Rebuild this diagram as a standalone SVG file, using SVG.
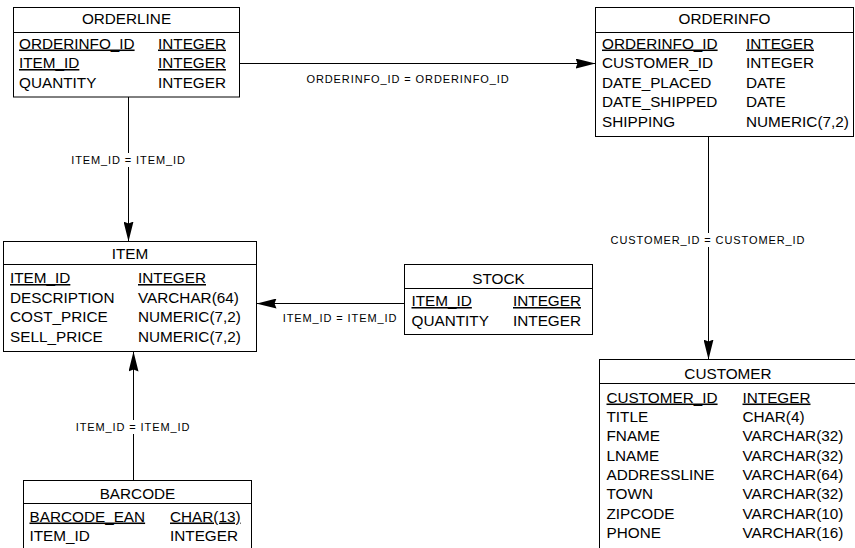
<svg xmlns="http://www.w3.org/2000/svg" width="855" height="548" viewBox="0 0 855 548">
<style>
.box{fill:#fff;stroke:#000;stroke-width:1}
.sep{stroke:#000;stroke-width:1}
.t{font-family:"Liberation Sans",Arial,sans-serif;font-size:15.3px;fill:#000}
.ttl{text-anchor:middle}
.pk{text-decoration:underline}
.conn{fill:none;stroke:#000;stroke-width:1}
.lbl{font-family:"Liberation Sans",Arial,sans-serif;font-size:11px;letter-spacing:0.9px;fill:#000;text-anchor:middle}
</style>
<defs>
<marker id="arr" markerUnits="userSpaceOnUse" viewBox="0 0 20 10" markerWidth="20" markerHeight="10" refX="20" refY="5" orient="auto">
<path d="M0,0 L20,5 L0,10 L2,5 z" fill="#000"/>
</marker>
</defs>
<rect width="855" height="548" fill="#fff"/>

<g id="connectors">
<path class="conn" d="M239.5 63.5 H595.5" marker-end="url(#arr)"/>
<path class="conn" d="M128.5 97 V153 M128.5 167 V241.5" marker-end="url(#arr)"/>
<path class="conn" d="M404.5 303.5 H256.5" marker-end="url(#arr)"/>
<path class="conn" d="M708.5 136.5 V233 M708.5 247 V359.5" marker-end="url(#arr)"/>
<path class="conn" d="M133.5 480.5 V434 M133.5 420 V351.5" marker-end="url(#arr)"/>
<text class="lbl" x="408" y="83">ORDERINFO_ID = ORDERINFO_ID</text>
<text class="lbl" x="128.5" y="164">ITEM_ID = ITEM_ID</text>
<text class="lbl" x="340" y="322">ITEM_ID = ITEM_ID</text>
<text class="lbl" x="708" y="244">CUSTOMER_ID = CUSTOMER_ID</text>
<text class="lbl" x="133" y="431">ITEM_ID = ITEM_ID</text>
</g>

<g id="orderline">
<rect class="box" x="13.5" y="7.5" width="226" height="89.5"/>
<line class="sep" x1="13.5" y1="32.5" x2="239.5" y2="32.5"/>
<text class="t ttl" x="126.5" y="23.5">ORDERLINE</text>
<text class="t pk" x="19" y="48.5">ORDERINFO_ID</text><text class="t pk" x="158" y="48.5">INTEGER</text>
<text class="t pk" x="19" y="68">ITEM_ID</text><text class="t pk" x="158" y="68">INTEGER</text>
<text class="t" x="19" y="87.5">QUANTITY</text><text class="t" x="158" y="87.5">INTEGER</text>
</g>

<g id="orderinfo">
<rect class="box" x="595.5" y="7.5" width="258" height="129"/>
<line class="sep" x1="595.5" y1="32.5" x2="853.5" y2="32.5"/>
<text class="t ttl" x="724.5" y="23.5">ORDERINFO</text>
<text class="t pk" x="602" y="48.5">ORDERINFO_ID</text><text class="t pk" x="746" y="48.5">INTEGER</text>
<text class="t" x="602" y="68">CUSTOMER_ID</text><text class="t" x="746" y="68">INTEGER</text>
<text class="t" x="602" y="87.5">DATE_PLACED</text><text class="t" x="746" y="87.5">DATE</text>
<text class="t" x="602" y="107">DATE_SHIPPED</text><text class="t" x="746" y="107">DATE</text>
<text class="t" x="602" y="126.5">SHIPPING</text><text class="t" x="746" y="126.5">NUMERIC(7,2)</text>
</g>

<g id="item">
<rect class="box" x="3.5" y="241.5" width="253" height="110"/>
<line class="sep" x1="3.5" y1="264.5" x2="256.5" y2="264.5"/>
<text class="t ttl" x="130" y="258.5">ITEM</text>
<text class="t pk" x="10" y="283">ITEM_ID</text><text class="t pk" x="138" y="283">INTEGER</text>
<text class="t" x="10" y="302.5">DESCRIPTION</text><text class="t" x="138" y="302.5">VARCHAR(64)</text>
<text class="t" x="10" y="322">COST_PRICE</text><text class="t" x="138" y="322">NUMERIC(7,2)</text>
<text class="t" x="10" y="341.5">SELL_PRICE</text><text class="t" x="138" y="341.5">NUMERIC(7,2)</text>
</g>

<g id="stock">
<rect class="box" x="404.5" y="264.5" width="188" height="70"/>
<line class="sep" x1="404.5" y1="288.5" x2="592.5" y2="288.5"/>
<text class="t ttl" x="498.5" y="283.5">STOCK</text>
<text class="t pk" x="411.5" y="306">ITEM_ID</text><text class="t pk" x="513" y="306">INTEGER</text>
<text class="t" x="411.5" y="325.5">QUANTITY</text><text class="t" x="513" y="325.5">INTEGER</text>
</g>

<g id="customer">
<rect class="box" x="599.5" y="359.5" width="257" height="200"/>
<line class="sep" x1="599.5" y1="383.5" x2="856.5" y2="383.5"/>
<text class="t ttl" x="728" y="378.5">CUSTOMER</text>
<text class="t pk" x="606.5" y="402.5">CUSTOMER_ID</text><text class="t pk" x="742.5" y="402.5">INTEGER</text>
<text class="t" x="606.5" y="422">TITLE</text><text class="t" x="742.5" y="422">CHAR(4)</text>
<text class="t" x="606.5" y="441">FNAME</text><text class="t" x="742.5" y="441">VARCHAR(32)</text>
<text class="t" x="606.5" y="460.5">LNAME</text><text class="t" x="742.5" y="460.5">VARCHAR(32)</text>
<text class="t" x="606.5" y="480">ADDRESSLINE</text><text class="t" x="742.5" y="480">VARCHAR(64)</text>
<text class="t" x="606.5" y="499">TOWN</text><text class="t" x="742.5" y="499">VARCHAR(32)</text>
<text class="t" x="606.5" y="518.5">ZIPCODE</text><text class="t" x="742.5" y="518.5">VARCHAR(10)</text>
<text class="t" x="606.5" y="537.5">PHONE</text><text class="t" x="742.5" y="537.5">VARCHAR(16)</text>
</g>

<g id="barcode">
<rect class="box" x="23.5" y="480.5" width="228" height="80"/>
<line class="sep" x1="23.5" y1="503.5" x2="251.5" y2="503.5"/>
<text class="t ttl" x="137.5" y="498.5">BARCODE</text>
<text class="t pk" x="29.5" y="521.5">BARCODE_EAN</text><text class="t pk" x="170" y="521.5">CHAR(13)</text>
<text class="t" x="29.5" y="541">ITEM_ID</text><text class="t" x="170" y="541">INTEGER</text>
</g>
</svg>
